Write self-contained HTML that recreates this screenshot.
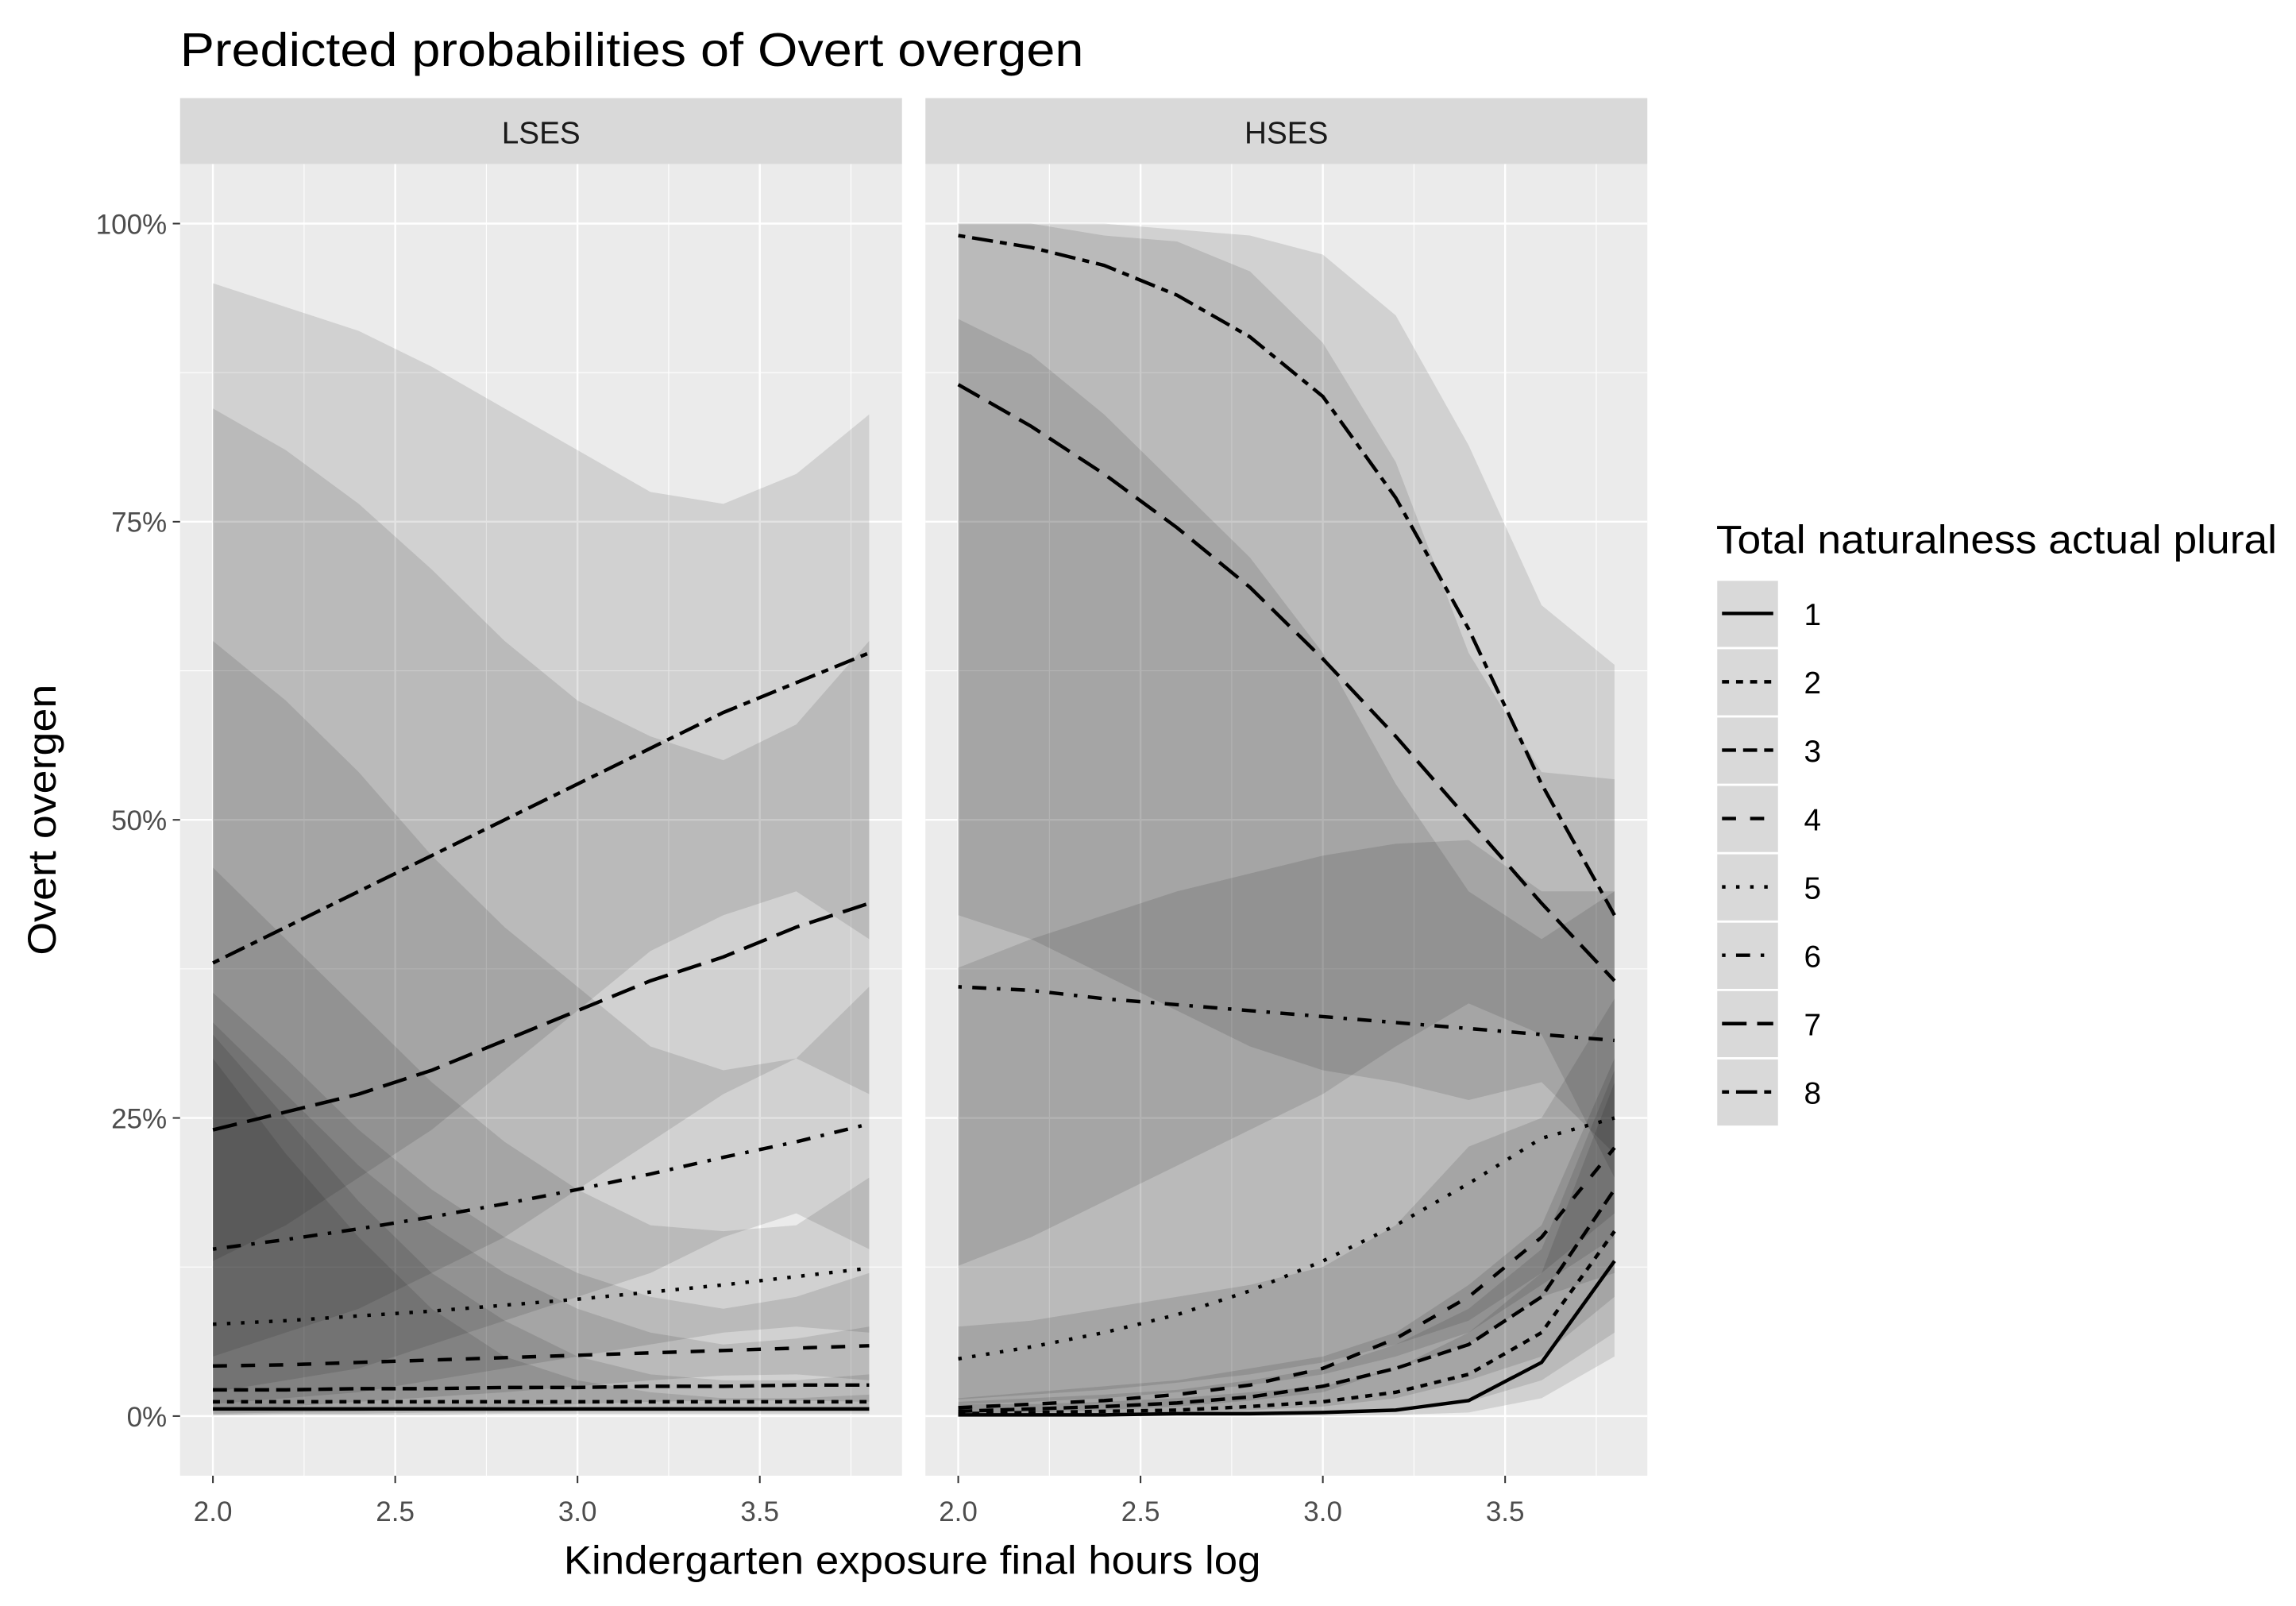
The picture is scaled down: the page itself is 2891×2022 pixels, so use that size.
<!DOCTYPE html>
<html><head><meta charset="utf-8"><style>
html,body{margin:0;padding:0;background:#fff}
svg{display:block;font-family:"Liberation Sans",sans-serif}
</style></head><body>
<svg id="chart" width="2891" height="2022" viewBox="0 0 1568 1097" preserveAspectRatio="none" xmlns="http://www.w3.org/2000/svg">
<rect width="1568" height="1097" fill="#fff"/>
<text x="123" y="45" font-size="32" textLength="617" lengthAdjust="spacingAndGlyphs" fill="#000">Predicted probabilities of Overt overgen</text>
<text transform="translate(38,560) rotate(-90)" text-anchor="middle" font-size="27" textLength="185" lengthAdjust="spacingAndGlyphs" fill="#000">Overt overgen</text>
<text x="385" y="1075" font-size="27" textLength="476" lengthAdjust="spacingAndGlyphs" fill="#000">Kindergarten exposure final hours log</text>
<g id="panels"></g>
<g id="legend"></g>
</svg>
<script>
const xs = [2.0,2.2,2.4,2.6,2.8,3.0,3.2,3.4,3.6,3.8];
const xTicks = [2.0,2.5,3.0,3.5];
const yTicks = [0,0.25,0.5,0.75,1];
const yTickLabels = ["0%","25%","50%","75%","100%"];
const levels = ["1","2","3","4","5","6","7","8"];
const panelNames = ["LSES","HSES"];
const lsesFit = [
 [0.006,0.006,0.006,0.006,0.006,0.006,0.006,0.006,0.006,0.006],
 [0.012,0.012,0.012,0.012,0.012,0.012,0.012,0.012,0.012,0.012],
 [0.022,0.022,0.023,0.023,0.024,0.024,0.025,0.025,0.026,0.026],
 [0.042,0.043,0.045,0.047,0.049,0.051,0.053,0.055,0.057,0.059],
 [0.077,0.08,0.084,0.088,0.093,0.098,0.104,0.11,0.117,0.124],
 [0.14,0.148,0.157,0.167,0.178,0.19,0.203,0.217,0.23,0.245],
 [0.24,0.255,0.27,0.29,0.315,0.34,0.365,0.385,0.41,0.43],
 [0.38,0.41,0.44,0.47,0.50,0.53,0.56,0.59,0.615,0.64]];
const lsesLow = [
 [0.0005,0.001,0.001,0.001,0.002,0.002,0.002,0.002,0.002,0.002],
 [0.001,0.002,0.002,0.003,0.003,0.004,0.004,0.004,0.004,0.004],
 [0.002,0.003,0.004,0.006,0.008,0.01,0.012,0.013,0.013,0.012],
 [0.005,0.008,0.012,0.016,0.02,0.025,0.03,0.034,0.035,0.03],
 [0.01,0.015,0.02,0.03,0.04,0.05,0.06,0.07,0.075,0.07],
 [0.02,0.03,0.04,0.06,0.08,0.1,0.12,0.15,0.17,0.14],
 [0.05,0.07,0.09,0.12,0.15,0.19,0.23,0.27,0.3,0.27],
 [0.13,0.16,0.2,0.24,0.29,0.34,0.39,0.42,0.44,0.40]];
const lsesHigh = [
 [0.3,0.22,0.15,0.09,0.05,0.03,0.02,0.015,0.015,0.018],
 [0.32,0.25,0.18,0.12,0.08,0.05,0.035,0.03,0.03,0.035],
 [0.33,0.27,0.21,0.16,0.12,0.09,0.07,0.06,0.065,0.075],
 [0.355,0.3,0.24,0.19,0.15,0.12,0.1,0.09,0.1,0.12],
 [0.46,0.4,0.34,0.28,0.23,0.19,0.16,0.155,0.16,0.2],
 [0.65,0.6,0.54,0.47,0.41,0.36,0.31,0.29,0.3,0.36],
 [0.845,0.81,0.765,0.71,0.65,0.6,0.57,0.55,0.58,0.65],
 [0.95,0.93,0.91,0.88,0.845,0.81,0.775,0.765,0.79,0.84]];
const hsesFit = [
 [0.001,0.001,0.001,0.002,0.002,0.003,0.005,0.013,0.045,0.13],
 [0.002,0.003,0.004,0.005,0.008,0.012,0.02,0.035,0.07,0.155],
 [0.004,0.006,0.008,0.011,0.016,0.025,0.04,0.06,0.1,0.19],
 [0.007,0.01,0.013,0.018,0.026,0.04,0.065,0.1,0.15,0.225],
 [0.048,0.058,0.07,0.085,0.105,0.13,0.16,0.195,0.233,0.25],
 [0.36,0.357,0.35,0.345,0.34,0.335,0.33,0.325,0.32,0.315],
 [0.865,0.83,0.79,0.745,0.695,0.635,0.57,0.5,0.43,0.365],
 [0.99,0.98,0.965,0.94,0.905,0.855,0.77,0.66,0.53,0.42]];
const hsesLow = [
 [0,0,0,0,0,0,0.001,0.003,0.015,0.05],
 [0,0,0,0.001,0.001,0.002,0.005,0.012,0.03,0.07],
 [0.001,0.001,0.002,0.003,0.005,0.008,0.015,0.03,0.05,0.1],
 [0.002,0.003,0.005,0.008,0.013,0.02,0.04,0.06,0.1,0.12],
 [0.01,0.012,0.015,0.02,0.026,0.035,0.05,0.07,0.11,0.15],
 [0.014,0.018,0.022,0.028,0.035,0.045,0.06,0.08,0.12,0.17],
 [0.126,0.15,0.18,0.21,0.24,0.27,0.31,0.346,0.32,0.2],
 [0.42,0.40,0.37,0.34,0.31,0.29,0.28,0.265,0.28,0.22]];
const hsesHigh = [
 [0.01,0.01,0.012,0.015,0.02,0.025,0.04,0.07,0.12,0.28],
 [0.012,0.015,0.018,0.022,0.03,0.04,0.06,0.09,0.14,0.29],
 [0.015,0.02,0.025,0.03,0.04,0.05,0.07,0.11,0.16,0.3],
 [0.075,0.08,0.09,0.1,0.11,0.125,0.16,0.226,0.25,0.35],
 [0.376,0.40,0.42,0.44,0.455,0.47,0.48,0.483,0.44,0.44],
 [0.92,0.89,0.84,0.78,0.72,0.64,0.53,0.44,0.4,0.44],
 [1,1,0.99,0.985,0.96,0.9,0.8,0.64,0.54,0.534],
 [1,1,1,0.995,0.99,0.974,0.923,0.814,0.68,0.63]];

const NS="http://www.w3.org/2000/svg";
const dashes=["", "2 2","4 2","4 4","1 3","1 3 4 3","7 3","2 2 6 2"];
const panelX=[123,632], panelW=493, plotTop=112, plotBot=1008;
const xmin=1.91,xmax=3.89,ymin=-0.05,ymax=1.05;
function sx(p,v){return panelX[p]+(v-xmin)/(xmax-xmin)*panelW;}
function sy(v){return plotBot-(v-ymin)/(ymax-ymin)*(plotBot-plotTop);}
function mk(tag,attrs,parent){const e=document.createElementNS(NS,tag);for(const k in attrs)e.setAttribute(k,attrs[k]);parent.appendChild(e);return e;}
const root=document.getElementById('panels');
const fits=[lsesFit,hsesFit],lows=[lsesLow,hsesLow],highs=[lsesHigh,hsesHigh];
for(let p=0;p<2;p++){
  const g=mk('g',{},root);
  
  
  const bg=mk('rect',{x:panelX[p],y:plotTop,width:panelW,height:plotBot-plotTop,fill:'#EBEBEB'},g);
  
  
  const strip=mk('rect',{x:panelX[p],y:67,width:panelW,height:45,fill:'#D9D9D9'},g);
  
  
  const st=mk('text',{x:panelX[p]+panelW/2,y:98,'text-anchor':'middle','font-size':21,fill:'#1a1a1a'},g);
  st.textContent=panelNames[p];
  
  
  for(let i=0;i<xTicks.length;i++){const v=xTicks[i]+0.25;if(v<xmax) mk('line',{x1:sx(p,v),x2:sx(p,v),y1:plotTop,y2:plotBot,stroke:'#fff','stroke-width':0.6},g);}
  for(let i=0;i<yTicks.length-1;i++){const v=yTicks[i]+0.125;mk('line',{x1:panelX[p],x2:panelX[p]+panelW,y1:sy(v),y2:sy(v),stroke:'#fff','stroke-width':0.6},g);}
  xTicks.forEach(v=>{mk('line',{x1:sx(p,v),x2:sx(p,v),y1:plotTop,y2:plotBot,stroke:'#fff','stroke-width':1.3},g);
    mk('line',{x1:sx(p,v),x2:sx(p,v),y1:plotBot,y2:plotBot+5,stroke:'#333','stroke-width':1.1},g);
    const t=mk('text',{x:sx(p,v),y:plotBot+31,'text-anchor':'middle','font-size':19,fill:'#4d4d4d'},g);t.textContent=v.toFixed(1);
    
    });
  yTicks.forEach((v,i)=>{mk('line',{x1:panelX[p],x2:panelX[p]+panelW,y1:sy(v),y2:sy(v),stroke:'#fff','stroke-width':1.3},g);
    if(p===0){mk('line',{x1:panelX[0]-5,x2:panelX[0],y1:sy(v),y2:sy(v),stroke:'#333','stroke-width':1.1},g);
    const t=mk('text',{x:panelX[0]-9,y:sy(v)+7,'text-anchor':'end','font-size':19,fill:'#4d4d4d'},g);t.textContent=yTickLabels[i];
    
    }});
  for(let s=0;s<levels.length;s++){
    let d='M'+xs.map((x,i)=>sx(p,x)+','+sy(highs[p][s][i])).join('L');
    for(let i=xs.length-1;i>=0;i--) d+='L'+sx(p,xs[i])+','+sy(lows[p][s][i]);
    const r=mk('path',{d:d+'Z',fill:'#000','fill-opacity':0.11},g);
    
    
  }
  for(let s=0;s<levels.length;s++){
    const d='M'+xs.map((x,i)=>sx(p,x)+','+sy(fits[p][s][i])).join('L');
    const l=mk('path',{d:d,fill:'none',stroke:'#000','stroke-width':2.4,'stroke-dasharray':dashes[s].split(' ').filter(Boolean).map(n=>n*2.4).join(' ')},g);
    
    
  }
}
const lg=document.getElementById('legend');
const lt=mk('text',{x:1172,y:378,'font-size':27,textLength:383,lengthAdjust:'spacingAndGlyphs',fill:'#000'},lg);lt.textContent='Total naturalness actual plural';


levels.forEach((lv,i)=>{
  const y=396+i*46.7;
  const e=mk('g',{},lg);
  
  
  mk('rect',{x:1172,y:y,width:43,height:46.7,fill:'#D9D9D9',stroke:'#fff','stroke-width':1.5},e);
  mk('line',{x1:1176,x2:1211,y1:y+23,y2:y+23,stroke:'#000','stroke-width':2.4,'stroke-dasharray':dashes[i].split(' ').filter(Boolean).map(n=>n*2.4).join(' ')},e);
  const t=mk('text',{x:1232,y:y+31,'font-size':21,fill:'#000'},e);t.textContent=lv;
});
</script>
</body></html>
